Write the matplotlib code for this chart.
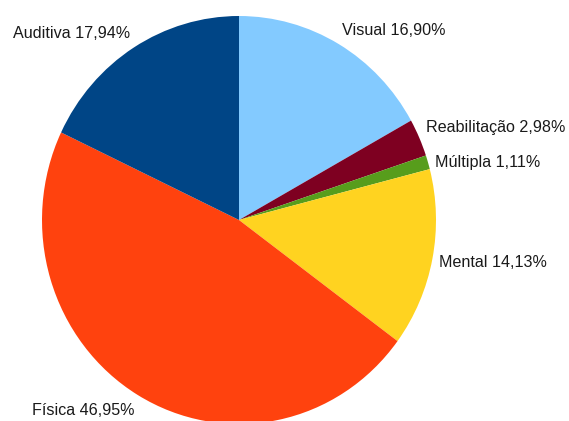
import numpy as np
import matplotlib
matplotlib.use("Agg")
import matplotlib.pyplot as plt

plt.rcParams['font.family'] = ['Liberation Sans', 'DejaVu Sans']

# dados
categorias = ["Visual", "Reabilitação", "Múltipla", "Mental", "Física", "Auditiva"]
percentuais = [16.90, 2.98, 1.11, 14.13, 46.95, 17.94]
cores = ["#83CAFF", "#7E0021", "#579D1C", "#FFD320", "#FF420E", "#004586"]

W, H = 569, 421
fig = plt.figure(figsize=(W / 100, H / 100), dpi=100)
ax = fig.add_axes([0, 0, 1, 1])

# pizza levemente achatada (imagem original foi reescalada)
rx, ry = 197, 204
esc = rx / ry
cx, cy_px = 239, 220
cy = (H - cy_px) * esc

wedges, _ = ax.pie(percentuais, colors=cores, startangle=90, counterclock=False,
                   center=(cx, cy), radius=rx, frame=True,
                   wedgeprops=dict(linewidth=0))
ax.set_aspect('auto')
ax.set_xlim(0, W)
ax.set_ylim(0, H * esc)
ax.axis('off')

# rótulos fora da pizza
d = 7
for w, nome, p in zip(wedges, categorias, percentuais):
    ang = np.deg2rad((w.theta1 + w.theta2) / 2)
    c, s = np.cos(ang), np.sin(ang)
    x = cx + (rx + d) * c
    y = cy + (rx + d) * s
    ha = 'left' if c >= 0 else 'right'
    if s > 0.3:
        va = 'bottom'
    elif s < -0.3:
        va = 'top'
    else:
        va = 'center'
    txt = f"{nome} {p:.2f}%".replace('.', ',')
    ax.text(x, y - 2 * (va != 'bottom'), txt, ha=ha, va=va, fontsize=11.6,
            color='#1a1a1a')

fig.savefig("out.png", dpi=100)
